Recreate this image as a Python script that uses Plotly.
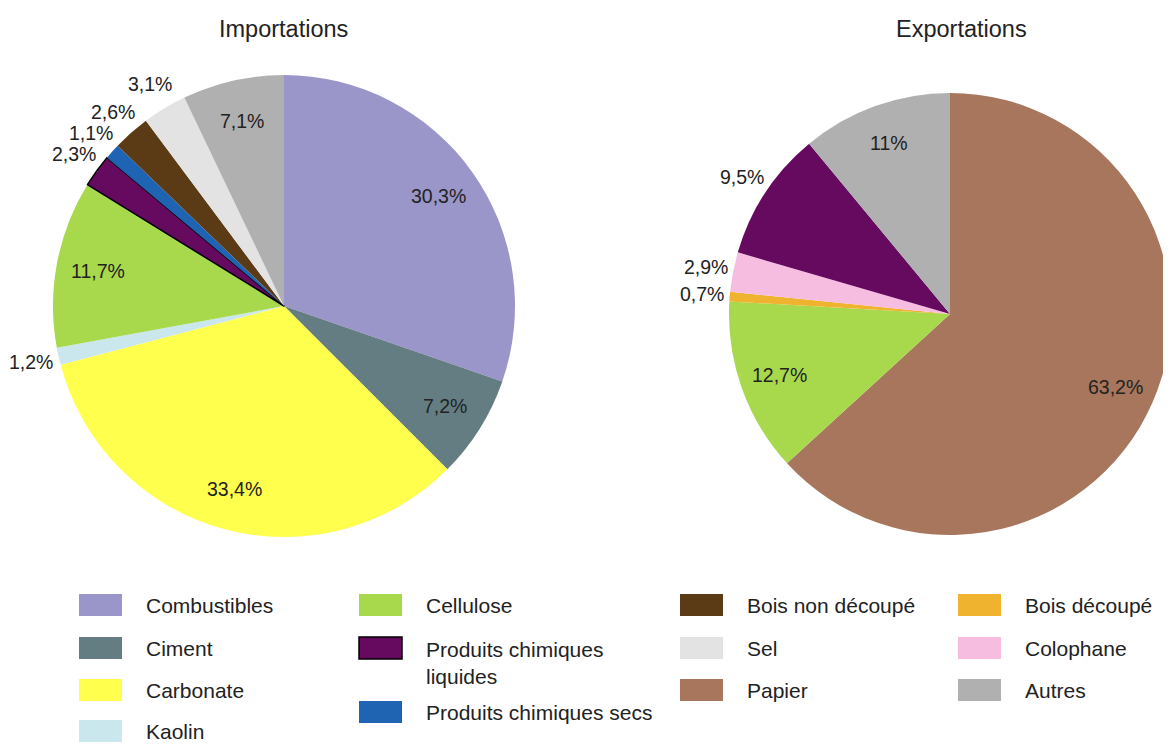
import math
import plotly.graph_objects as go

# page / body offset (browser default body margin)
OFF = 8
PAGE_W, PAGE_H = 1171, 744
W, H = PAGE_W - OFF, PAGE_H - OFF

# ---- data ----
imp_labels = ["Combustibles", "Ciment", "Carbonate", "Kaolin", "Cellulose",
              "Produits chimiques liquides", "Produits chimiques secs",
              "Bois non découpé", "Sel", "Autres"]
imp_values = [30.3, 7.2, 33.4, 1.2, 11.7, 2.3, 1.1, 2.6, 3.1, 7.1]

exp_labels = ["Papier", "Cellulose", "Bois découpé", "Colophane",
              "Produits chimiques liquides", "Autres"]
exp_values = [63.2, 12.7, 0.7, 2.9, 9.5, 11.0]

legend_names = ["Combustibles", "Ciment", "Carbonate", "Kaolin",
                "Cellulose", "Produits chimiques<br>liquides", "Produits chimiques secs",
                "Bois non découpé", "Sel", "Papier",
                "Bois découpé", "Colophane", "Autres"]

# ---- styles ----
colors = {
    "Combustibles": "#9b96c9",
    "Ciment": "#647d82",
    "Carbonate": "#ffff4d",
    "Kaolin": "#c9e7ec",
    "Cellulose": "#a8d84c",
    "Produits chimiques liquides": "#650a5f",
    "Produits chimiques secs": "#1f63b3",
    "Bois non découpé": "#5a3b16",
    "Sel": "#e3e3e3",
    "Papier": "#a8765c",
    "Bois découpé": "#efb32f",
    "Colophane": "#f7bde0",
    "Autres": "#b0b0b0",
}
imp_outside = {"Kaolin", "Produits chimiques liquides", "Produits chimiques secs",
               "Bois non découpé", "Sel"}
exp_outside = {"Bois découpé", "Colophane", "Produits chimiques liquides"}
LABEL_R_IN = 0.82
LABEL_OUT_GAP = 28
FONT = "Liberation Sans, Arial, sans-serif"
TXT = "#222222"
LBL_SIZE = 19.5


def fmt(v):
    return ("%g" % v).replace(".", ",") + "%"


def px_x(x):
    return min(max((x - OFF) / W, 0.0), 1.0)


def px_y(y):
    return min(max(1 - (y - OFF) / H, 0.0), 1.0)


annotations = []


def make_pie(labels, values, cx, cy, r, outline, outside):
    total = sum(values)
    cum = 0.0
    for lab, v in zip(labels, values):
        mid = (cum + v / 2) / total * 2 * math.pi
        cum += v
        rr = r + LABEL_OUT_GAP if lab in outside else LABEL_R_IN * r
        x = cx + rr * math.sin(mid)
        y = cy - rr * math.cos(mid)
        annotations.append(dict(text=fmt(v), x=px_x(x), y=px_y(y), xref="paper", yref="paper",
                                showarrow=False, xanchor="center", yanchor="middle",
                                font=dict(family=FONT, size=LBL_SIZE, color=TXT)))
    return go.Pie(
        labels=labels,
        values=values,
        textinfo="none",
        sort=False,
        direction="clockwise",
        rotation=0,
        marker=dict(
            colors=[colors[l] for l in labels],
            line=dict(color="black",
                      width=[1.5 if (outline and l == "Produits chimiques liquides") else 0 for l in labels]),
        ),
        domain=dict(x=[px_x(cx - r), px_x(cx + r)], y=[px_y(cy + r), px_y(cy - r)]),
        showlegend=False,
        hoverinfo="label+percent",
    )


fig = go.Figure()
fig.add_trace(make_pie(imp_labels, imp_values, 284, 306, 231, True, imp_outside))
fig.add_trace(make_pie(exp_labels, exp_values, 950, 314, 221, False, exp_outside))

annotations += [
    dict(text="Importations", x=px_x(283), y=px_y(29), xref="paper", yref="paper",
         showarrow=False, xanchor="center", yanchor="middle",
         font=dict(family=FONT, size=23.5, color=TXT)),
    dict(text="Exportations", x=px_x(961), y=px_y(29), xref="paper", yref="paper",
         showarrow=False, xanchor="center", yanchor="middle",
         font=dict(family=FONT, size=23.5, color=TXT)),
]

# manual legend layout (page pixel positions)
legend_cols_x = [79, 359, 680, 958]
legend_rows = [
    (0, 605), (0, 648), (0, 690), (0, 731),
    (1, 605), (1, 648), (1, 712),
    (2, 605), (2, 648), (2, 690),
    (3, 605), (3, 648), (3, 690),
]
shapes = []
for name, (col, yc) in zip(legend_names, legend_rows):
    key = name.replace("<br>", " ")
    x0 = legend_cols_x[col]
    is_pcl = key == "Produits chimiques liquides"
    shapes.append(dict(type="rect", xref="paper", yref="paper",
                       x0=px_x(x0), x1=px_x(x0 + 43), y0=px_y(yc + 11), y1=px_y(yc - 11),
                       fillcolor=colors[key],
                       line=dict(color="black" if is_pcl else colors[key],
                                 width=1.5 if is_pcl else 0)))
    multi = "<br>" in name
    annotations.append(dict(text=name, x=px_x(x0 + 65), y=px_y(yc - 12 if multi else yc),
                            xref="paper", yref="paper", showarrow=False,
                            xanchor="left", yanchor="top" if multi else "middle", align="left",
                            font=dict(family=FONT, size=21, color=TXT)))

fig.update_layout(
    width=W, height=H,
    margin=dict(l=0, r=0, t=0, b=0),
    paper_bgcolor="white",
    plot_bgcolor="white",
    annotations=annotations,
    shapes=shapes,
    showlegend=False,
)

fig.write_html("out.html")
